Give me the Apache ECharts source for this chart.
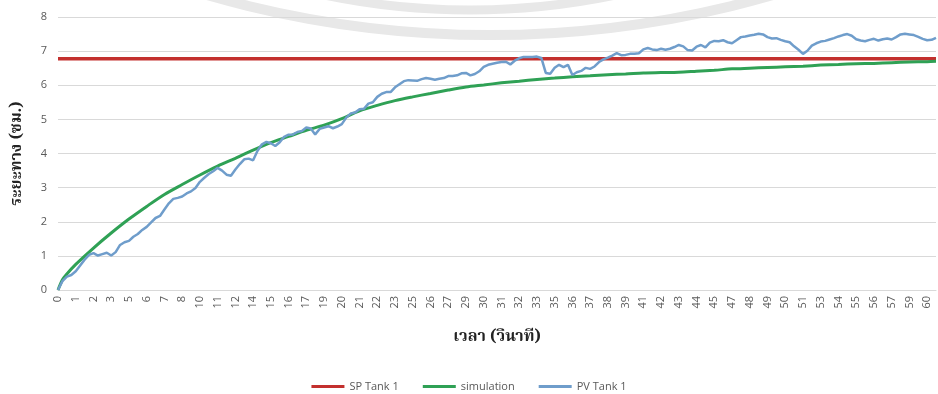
<!DOCTYPE html>
<html>
<head>
<meta charset="utf-8">
<script src="https://cdn.jsdelivr.net/npm/echarts@6/dist/echarts.min.js"></script>
<style>
html,body{margin:0;padding:0;background:#fff;}
#c{width:938px;height:394px;}
</style>
</head>
<body>
<div id="c"></div>
<script>
// Tick labels shown on the x axis (minutes), one every 4 samples
var tickLabels = ['0','1','2','3','5','6','7','8','10','11','12','14','15','16','17','19','20','21','22','23','25','26','27','29','30','31','32','33','35','36','37','38','39','41','42','43','44','45','47','48','49','50','51','53','54','55','56','57','59','60'];
var samplesPerTick = 4;

// Set point of tank 1 (cm)
var spTank1 = 6.78;

// Measured level of tank 1 (cm), one value per sample
var pvTank1 = [
0,0.26,0.39,0.44,0.55,0.72,0.89,1.03,1.08,1.01,
1.05,1.09,1.01,1.11,1.32,1.40,1.44,1.56,1.64,1.76,
1.85,1.98,2.11,2.17,2.36,2.54,2.67,2.70,2.74,2.83,
2.89,2.99,3.17,3.29,3.40,3.48,3.58,3.50,3.38,3.35,
3.53,3.69,3.83,3.85,3.80,4.08,4.27,4.34,4.30,4.22,
4.33,4.49,4.55,4.56,4.63,4.66,4.76,4.73,4.56,4.72,
4.76,4.80,4.74,4.79,4.86,5.05,5.17,5.20,5.30,5.31,
5.46,5.50,5.66,5.75,5.80,5.80,5.94,6.03,6.12,6.15,
6.14,6.13,6.18,6.21,6.19,6.16,6.19,6.21,6.27,6.27,
6.29,6.35,6.36,6.29,6.33,6.41,6.54,6.60,6.63,6.66,
6.68,6.69,6.61,6.72,6.79,6.83,6.83,6.83,6.84,6.80,
6.36,6.34,6.51,6.60,6.53,6.60,6.30,6.38,6.42,6.51,
6.48,6.55,6.68,6.76,6.81,6.87,6.94,6.88,6.89,6.92,
6.92,6.94,7.05,7.09,7.05,7.03,7.07,7.04,7.07,7.12,
7.18,7.14,7.03,7.02,7.13,7.18,7.11,7.25,7.30,7.29,
7.32,7.26,7.23,7.32,7.41,7.43,7.46,7.48,7.51,7.49,
7.41,7.37,7.38,7.33,7.29,7.26,7.14,7.04,6.92,7.01,
7.16,7.23,7.28,7.30,7.34,7.38,7.43,7.47,7.50,7.45,
7.35,7.31,7.29,7.33,7.36,7.31,7.35,7.37,7.34,7.41,
7.49,7.51,7.49,7.47,7.42,7.36,7.32,7.33,7.39
];

// Simulated level (cm): sample index and value
var simIndex = [0,1,2,4,8,12,16,20,24,28,32,36,40,44,48,52,56,60,64,68,72,76,80,84,88,92,96,100,104,108,112,116,120,124,128,132,136,140,144,148,152,156,160,164,168,172,176,180,184,188,192,196,198];
var simValue = [0,0.30,0.47,0.75,1.23,1.67,2.08,2.45,2.80,3.09,3.37,3.63,3.86,4.10,4.32,4.50,4.68,4.83,5.02,5.25,5.41,5.55,5.66,5.76,5.86,5.95,6.01,6.07,6.12,6.17,6.21,6.25,6.28,6.31,6.33,6.36,6.37,6.38,6.41,6.44,6.48,6.50,6.52,6.54,6.56,6.59,6.61,6.63,6.64,6.66,6.68,6.69,6.70];

var categories = pvTank1.map(function(v, i){ return String(i); });
var spData = categories.map(function(){ return spTank1; });
var simData = simIndex.map(function(ix, k){ return [String(ix), simValue[k]]; });

var chart = echarts.init(document.getElementById('c'), null, {renderer:'canvas'});
var labelColor = '#595959';
var thaiFont = '"Noto Serif Thai","Noto Sans Thai","Loma","Garuda","Tlwg Typo","DejaVu Sans",sans-serif';
chart.setOption({
  animation:false,
  backgroundColor:'#ffffff',
  graphic:[
    {type:'arc', silent:true, z:-10, shape:{cx:490, cy:-985, r:1020, startAngle:Math.PI*0.35, endAngle:Math.PI*0.65}, style:{stroke:'#e8e8e8', lineWidth:10, fill:null}},
    {type:'arc', silent:true, z:-10, shape:{cx:470, cy:-700, r:710, startAngle:Math.PI*0.38, endAngle:Math.PI*0.62}, style:{stroke:'#e8e8e8', lineWidth:9, fill:null}}
  ],
  grid:{left:58, right:2, top:17, bottom:104, containLabel:false},
  legend:{
    top:376, left:'center',
    itemWidth:33, itemHeight:3, itemGap:24, icon:'rect',
    textStyle:{color:labelColor, fontSize:11, fontFamily:'"Open Sans","DejaVu Sans",sans-serif'},
    data:['SP Tank 1','simulation','PV Tank 1']
  },
  xAxis:{
    type:'category',
    data:categories,
    boundaryGap:false,
    name:'เวลา (วินาที)',
    nameLocation:'middle',
    nameGap:40,
    nameTextStyle:{color:'#222', fontSize:16, fontWeight:'bold', fontFamily:thaiFont},
    axisLine:{lineStyle:{color:'#d9d9d9'}},
    axisTick:{show:false},
    splitLine:{show:false},
    axisLabel:{
      rotate:90, margin:6, color:labelColor, fontSize:11,
      fontFamily:'"Open Sans","DejaVu Sans",sans-serif',
      interval:function(index){ return index % samplesPerTick === 0; },
      formatter:function(value, index){ var t = tickLabels[index / samplesPerTick]; return t === undefined ? '' : t; }
    }
  },
  yAxis:{
    type:'value', min:0, max:8, interval:1,
    name:'ระยะทาง (ซม.)',
    nameLocation:'middle', nameRotate:90, nameGap:32,
    nameTextStyle:{color:'#222', fontSize:16, fontWeight:'bold', fontFamily:thaiFont},
    axisLine:{show:false}, axisTick:{show:false},
    axisLabel:{color:labelColor, fontSize:11, margin:11, fontFamily:'"Open Sans","DejaVu Sans",sans-serif'},
    splitLine:{lineStyle:{color:'#d9d9d9', width:1}}
  },
  series:[
    {name:'SP Tank 1', type:'line', data:spData, showSymbol:false, symbol:'none', color:'#c3302e', lineStyle:{width:3.5, color:'#c3302e'}},
    {name:'simulation', type:'line', data:simData, showSymbol:false, symbol:'none', smooth:0.3, color:'#2fa155', lineStyle:{width:3, color:'#2fa155'}},
    {name:'PV Tank 1', type:'line', data:pvTank1, showSymbol:false, symbol:'none', color:'#6f9dcb', lineStyle:{width:2.5, color:'#6f9dcb'}}
  ]
});
</script>
</body>
</html>
